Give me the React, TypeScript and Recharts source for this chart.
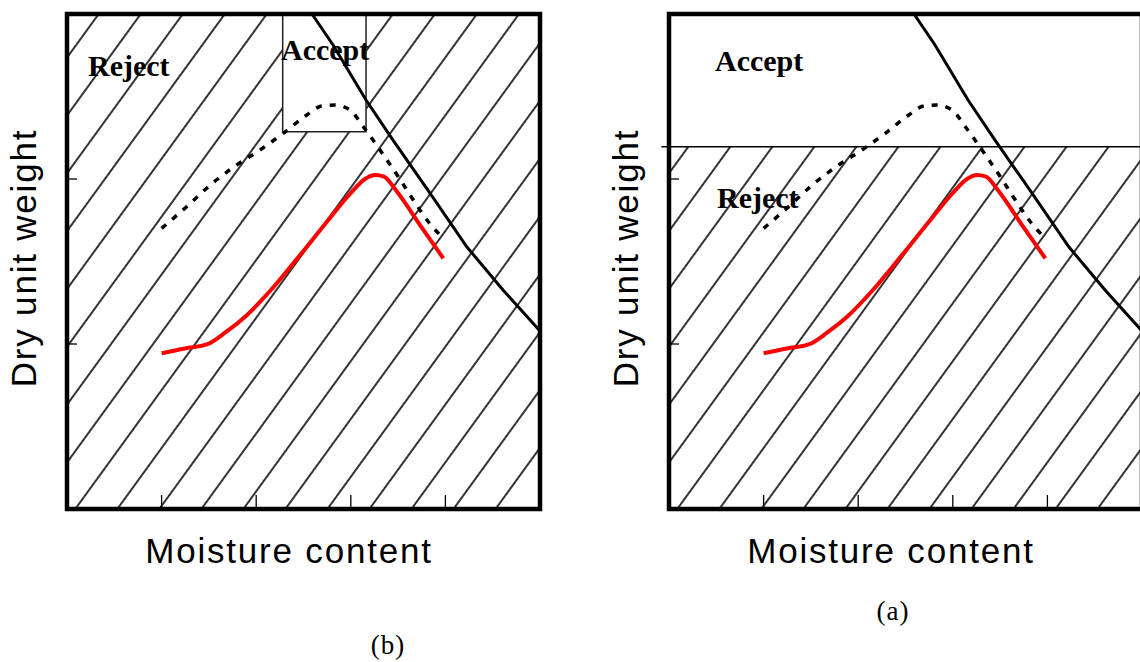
import { ComposedChart, Line, XAxis, YAxis, ReferenceArea, ReferenceLine } from "recharts";

// compaction curve (field)
const redMoisture = [1.0, 1.247, 1.477, 1.681, 1.892, 2.146, 2.463, 2.78, 2.991, 3.15, 3.256, 3.351, 3.467, 3.732, 3.978];
const redDensity = [0.944, 0.973, 0.997, 1.073, 1.17, 1.321, 1.539, 1.764, 1.909, 2.0, 2.024, 2.015, 1.939, 1.721, 1.519];

// compaction curve (lab, dotted)
const dotMoisture = [1.0, 1.265, 1.494, 1.758, 2.04, 2.286, 2.534, 2.692, 2.833, 2.992, 3.132, 3.309, 3.502, 3.661, 3.819, 3.943];
const dotDensity = [1.701, 1.832, 1.953, 2.071, 2.176, 2.277, 2.388, 2.442, 2.448, 2.418, 2.317, 2.176, 2.014, 1.873, 1.741, 1.661];

// zero air voids line
const zavMoisture = [2.59, 2.812, 3.161, 3.446, 3.837, 4.228, 4.609, 5.0];
const zavDensity = [3.0, 2.812, 2.479, 2.236, 1.915, 1.588, 1.327, 1.079];

const xTicks = [1, 2, 3, 4];
const yTicks = [1, 2];

// accept windows
const acceptBoxB = { x1: 2.28, x2: 3.161, y1: 2.287, y2: 3 };
const minDensityA = 2.196;

const toPts = (xs: number[], ys: number[]) => xs.map((x, i) => ({ x, y: ys[i] }));
const redData = toPts(redMoisture, redDensity);
const dotData = toPts(dotMoisture, dotDensity);
const zavData = toPts(zavMoisture, zavDensity);

const serif = "'Liberation Serif', 'Times New Roman', serif";
const sans = "'Liberation Sans', Arial, sans-serif";
const blank = () => "";

function Panel({ id, variant }: { id: string; variant: "a" | "b" }) {
  return (
    <ComposedChart
      width={570}
      height={662}
      margin={{ top: 14, left: 67, right: 30, bottom: 153 }}
    >
      <defs>
        <pattern
          id={id}
          patternUnits="userSpaceOnUse"
          width={34}
          height={34}
          patternTransform="translate(3.8,0) rotate(36)"
        >
          <line x1={17} y1={-1} x2={17} y2={35} stroke="#000" strokeWidth={1.6} />
        </pattern>
      </defs>
      <XAxis
        type="number"
        dataKey="x"
        domain={[0, 5]}
        ticks={xTicks}
        allowDataOverflow
        mirror
        tickFormatter={blank}
        tickSize={14}
        axisLine={false}
        tickLine={{ stroke: "#000", strokeWidth: 1.3 }}
      />
      <YAxis
        type="number"
        dataKey="y"
        domain={[0, 3]}
        ticks={yTicks}
        allowDataOverflow
        mirror
        tickFormatter={blank}
        tickSize={10}
        axisLine={false}
        tickLine={{ stroke: "#000", strokeWidth: 1.3 }}
      />
      {variant === "b" ? (
        <ReferenceArea x1={0} x2={5} y1={0} y2={3} fill={`url(#${id})`} fillOpacity={1} stroke="none" />
      ) : (
        <ReferenceArea x1={0} x2={5} y1={0} y2={minDensityA} fill={`url(#${id})`} fillOpacity={1} stroke="none" />
      )}
      {variant === "b" && (
        <ReferenceArea
          x1={acceptBoxB.x1}
          x2={acceptBoxB.x2}
          y1={acceptBoxB.y1}
          y2={acceptBoxB.y2}
          fill="#fff"
          fillOpacity={1}
          stroke="#222"
          strokeWidth={1.5}
        />
      )}
      {variant === "a" && (
        <ReferenceLine
          segment={[
            { x: -0.08, y: minDensityA },
            { x: 5, y: minDensityA },
          ]}
          ifOverflow="visible"
          stroke="#000"
          strokeWidth={1.5}
        />
      )}
      <ReferenceArea x1={0} x2={5} y1={0} y2={3} fill="none" stroke="#000" strokeWidth={4.5} />
      <Line data={redData} dataKey="y" type="monotone" stroke="#ff0000" strokeWidth={4} dot={false} activeDot={false} isAnimationActive={false} />
      <Line data={dotData} dataKey="y" type="monotone" stroke="#000" strokeWidth={3.5} strokeDasharray="6 8" dot={false} activeDot={false} isAnimationActive={false} />
      <Line data={zavData} dataKey="y" type="linear" stroke="#000" strokeWidth={3} dot={false} activeDot={false} isAnimationActive={false} />
    </ComposedChart>
  );
}

function PanelText({ variant }: { variant: "a" | "b" }) {
  return (
    <svg width={570} height={662} style={{ position: "absolute", left: 0, top: 0, pointerEvents: "none" }}>
      {variant === "b" ? (
        <>
          <text x={88} y={76} fontFamily={serif} fontWeight="bold" fontSize={30}>Reject</text>
          <text x={281} y={60} fontFamily={serif} fontWeight="bold" fontSize={30}>Accept</text>
        </>
      ) : (
        <>
          <text x={113} y={71} fontFamily={serif} fontWeight="bold" fontSize={30}>Accept</text>
          <text x={115} y={208} fontFamily={serif} fontWeight="bold" fontSize={30}>Reject</text>
        </>
      )}
      <text x={36} y={258} transform="rotate(-90 36 258)" textAnchor="middle" fontFamily={sans} fontSize={35} letterSpacing={1.8}>
        Dry unit weight
      </text>
      <text x={289} y={563} textAnchor="middle" fontFamily={sans} fontSize={35} letterSpacing={1.8}>
        Moisture content
      </text>
    </svg>
  );
}

export default function App() {
  return (
    <div style={{ position: "absolute", left: 0, top: 0, width: 1140, height: 662, overflow: "hidden", background: "#fff" }}>
      <div style={{ position: "absolute", left: 0, top: 0 }}>
        <Panel id="hatchB" variant="b" />
        <PanelText variant="b" />
      </div>
      <div style={{ position: "absolute", left: 602, top: 0 }}>
        <Panel id="hatchA" variant="a" />
        <PanelText variant="a" />
      </div>
      <svg width={1140} height={662} style={{ position: "absolute", left: 0, top: 0, pointerEvents: "none" }}>
        <text x={388} y={654} textAnchor="middle" fontFamily={serif} fontSize={27} letterSpacing={1}>(b)</text>
        <text x={893} y={620} textAnchor="middle" fontFamily={serif} fontSize={27} letterSpacing={1}>(a)</text>
      </svg>
    </div>
  );
}
